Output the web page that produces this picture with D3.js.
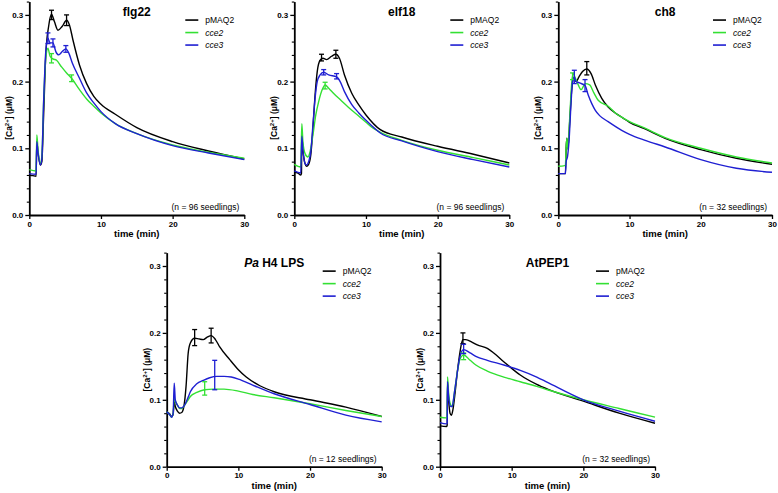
<!DOCTYPE html>
<html><head><meta charset="utf-8">
<script src="https://cdn.jsdelivr.net/npm/d3@7"></script>
<style>
body{margin:0;background:#fff}
svg{display:block}
text{font-family:"Liberation Sans",Arial,Helvetica,sans-serif}
</style>
</head><body>
<svg id="c" width="778" height="493"></svg>
<script>
// ---------- DATA ----------
const titles = ["flg22", "elf18", "ch8", "Pa H4 LPS", "AtPEP1"];
const nSeedlings = [96, 96, 32, 12, 32];
const seriesNames = ["pMAQ2", "cce2", "cce3"];
const xTicks = [0, 10, 20, 30];
const yTicks = [0, 0.1, 0.2, 0.3];

// [time (min), [Ca2+] (uM)]
const flg22_pMAQ2 = [[0,0.060],[0.5,0.059],[0.95,0.058],[1.05,0.11],[1.2,0.095],[1.55,0.075],[1.75,0.08],[2.0,0.15],[2.3,0.24],[2.7,0.283],[3.1,0.301],[3.5,0.29],[4.0,0.277],[4.6,0.283],[5.2,0.292],[5.6,0.285],[6.1,0.262],[7,0.225],[8,0.197],[9,0.178],[10,0.166],[12,0.151],[15,0.131],[20,0.11],[25,0.096],[30,0.084]];
const flg22_cce2 = [[0,0.068],[0.95,0.066],[1.05,0.12],[1.2,0.1],[1.55,0.078],[1.75,0.088],[2.0,0.17],[2.3,0.235],[2.6,0.25],[2.9,0.238],[3.3,0.234],[3.8,0.232],[4.5,0.222],[5.2,0.213],[5.9,0.205],[7,0.188],[8,0.174],[9,0.163],[10,0.153],[12,0.137],[15,0.122],[20,0.105],[25,0.094],[30,0.085]];
const flg22_cce3 = [[0,0.062],[0.95,0.061],[1.05,0.11],[1.2,0.095],[1.55,0.075],[1.75,0.085],[2.0,0.17],[2.3,0.245],[2.6,0.265],[2.9,0.258],[3.3,0.258],[3.7,0.245],[4.1,0.24],[4.6,0.245],[5.1,0.249],[5.5,0.243],[6,0.228],[7,0.205],[8,0.183],[9,0.168],[10,0.155],[12,0.137],[15,0.122],[20,0.104],[25,0.093],[30,0.083]];
const flg22_err_pMAQ2 = [[3.1,0.300,0.007],[5.2,0.292,0.008]];
const flg22_err_cce2 = [[3.1,0.235,0.007],[5.9,0.205,0.005]];
const flg22_err_cce3 = [[2.6,0.265,0.008],[3.3,0.258,0.006],[5.1,0.249,0.005]];

const elf18_pMAQ2 = [[0,0.064],[0.5,0.063],[0.9,0.06],[1.0,0.062],[1.05,0.12],[1.2,0.098],[1.5,0.077],[1.7,0.073],[2.0,0.076],[2.3,0.09],[2.6,0.13],[2.9,0.18],[3.2,0.215],[3.6,0.232],[4.0,0.235],[4.5,0.233],[5.2,0.238],[5.8,0.241],[6.3,0.235],[7,0.21],[8,0.183],[9,0.165],[10,0.15],[12,0.128],[15,0.117],[20,0.103],[25,0.091],[30,0.078]];
const elf18_cce2 = [[0,0.076],[0.9,0.072],[1.05,0.137],[1.2,0.11],[1.5,0.092],[1.9,0.087],[2.2,0.095],[2.6,0.12],[3.0,0.15],[3.4,0.17],[3.9,0.188],[4.3,0.195],[4.8,0.19],[5.5,0.182],[6.5,0.172],[7.5,0.162],[8.7,0.151],[10,0.139],[11,0.13],[12,0.124],[15,0.112],[20,0.097],[25,0.086],[30,0.075]];
const elf18_cce3 = [[0,0.066],[0.9,0.063],[1.05,0.118],[1.2,0.097],[1.5,0.077],[1.7,0.075],[2.0,0.08],[2.3,0.095],[2.6,0.135],[2.9,0.175],[3.2,0.2],[3.6,0.21],[4.1,0.214],[4.8,0.21],[5.9,0.207],[6.4,0.2],[7,0.185],[8,0.166],[9,0.153],[10,0.142],[12,0.123],[15,0.111],[20,0.095],[25,0.083],[30,0.072]];
const elf18_err_pMAQ2 = [[3.8,0.236,0.005],[5.8,0.241,0.006]];
const elf18_err_cce2 = [[4.3,0.194,0.005]];
const elf18_err_cce3 = [[4.1,0.214,0.004],[5.9,0.208,0.004]];

const ch8_pMAQ2 = [[0,0.062],[0.9,0.062],[1.0,0.062],[1.1,0.1],[1.2,0.115],[1.35,0.1],[1.6,0.14],[1.9,0.19],[2.2,0.205],[2.5,0.2],[2.9,0.207],[3.4,0.215],[4.0,0.219],[4.6,0.212],[5.2,0.195],[6.1,0.175],[7,0.162],[8,0.153],[9,0.146],[10,0.139],[12,0.13],[15,0.115],[20,0.098],[25,0.085],[30,0.076]];
const ch8_cce2 = [[0,0.073],[0.9,0.074],[1.0,0.075],[1.1,0.1],[1.2,0.115],[1.35,0.098],[1.6,0.145],[1.9,0.2],[2.1,0.212],[2.4,0.205],[2.8,0.195],[3.2,0.188],[3.8,0.197],[4.4,0.195],[5,0.183],[5.6,0.172],[7,0.163],[8,0.153],[9,0.146],[10,0.14],[12,0.131],[15,0.116],[20,0.1],[25,0.087],[30,0.078]];
const ch8_cce3 = [[0,0.062],[0.9,0.062],[1.0,0.062],[1.1,0.08],[1.3,0.088],[1.5,0.11],[1.8,0.17],[2.0,0.2],[2.25,0.207],[2.5,0.2],[3.0,0.198],[3.75,0.194],[4.2,0.18],[4.7,0.167],[5.2,0.157],[5.8,0.149],[7,0.14],[8.9,0.127],[10,0.121],[12.2,0.112],[15,0.102],[20,0.083],[25,0.07],[30,0.064]];
const ch8_err_pMAQ2 = [[4.0,0.22,0.01]];
const ch8_err_cce2 = [[2.0,0.208,0.005]];
const ch8_err_cce3 = [[2.25,0.207,0.01],[3.75,0.194,0.009]];

const lps_pMAQ2 = [[0,0.082],[0.4,0.079],[0.7,0.075],[0.9,0.078],[1.05,0.097],[1.2,0.09],[1.5,0.083],[1.8,0.08],[2.1,0.081],[2.4,0.09],[2.7,0.12],[3.0,0.17],[3.3,0.185],[3.9,0.192],[4.5,0.191],[5.1,0.19],[5.7,0.194],[6.2,0.196],[6.8,0.19],[7.4,0.179],[8.8,0.16],[10,0.145],[11.1,0.134],[13,0.121],[15,0.112],[20,0.1],[25,0.089],[30,0.075]];
const lps_cce2 = [[0,0.082],[0.4,0.078],[0.7,0.074],[0.9,0.08],[1.05,0.102],[1.2,0.098],[1.5,0.092],[1.8,0.087],[2.1,0.087],[2.5,0.092],[3.0,0.1],[3.3,0.105],[4.2,0.111],[5.3,0.115],[6.5,0.116],[8,0.116],[10,0.113],[12,0.108],[15,0.103],[20,0.094],[25,0.084],[30,0.075]];
const lps_cce3 = [[0,0.082],[0.4,0.078],[0.7,0.074],[0.9,0.08],[1.05,0.125],[1.2,0.1],[1.5,0.092],[1.8,0.088],[2.1,0.088],[2.5,0.092],[3.0,0.104],[3.3,0.112],[4.2,0.124],[5.1,0.129],[6,0.133],[7,0.135],[8,0.135],[9,0.134],[10,0.131],[12,0.122],[15,0.109],[20,0.093],[25,0.077],[30,0.067]];
const lps_err_pMAQ2 = [[3.9,0.193,0.012],[6.2,0.196,0.011]];
const lps_err_cce2 = [[5.3,0.117,0.01]];
const lps_err_cce3 = [[6.7,0.137,0.022]];

const pep1_pMAQ2 = [[0,0.061],[0.9,0.06],[1.0,0.062],[1.05,0.125],[1.2,0.1],[1.4,0.08],[1.6,0.077],[1.8,0.085],[2.1,0.11],[2.4,0.14],[2.7,0.165],[3.0,0.184],[3.2,0.19],[3.6,0.19],[4.5,0.186],[5.2,0.182],[6.6,0.177],[7.5,0.17],[8.9,0.157],[10,0.147],[11.2,0.137],[13.5,0.123],[15,0.116],[20,0.098],[25,0.08],[30,0.065]];
const pep1_cce2 = [[0,0.074],[0.9,0.073],[1.0,0.074],[1.05,0.134],[1.2,0.11],[1.5,0.092],[1.7,0.09],[2.0,0.11],[2.4,0.14],[2.7,0.158],[3.0,0.165],[3.3,0.167],[4.2,0.159],[5,0.152],[6.6,0.143],[8.9,0.134],[11.2,0.127],[13.5,0.12],[15,0.115],[20,0.1],[25,0.087],[30,0.074]];
const pep1_cce3 = [[0,0.066],[0.9,0.064],[1.0,0.065],[1.05,0.127],[1.2,0.105],[1.5,0.09],[1.7,0.09],[2.0,0.11],[2.4,0.14],[2.7,0.16],[3.0,0.172],[3.3,0.175],[4.2,0.17],[5,0.165],[6.6,0.159],[8.9,0.152],[11.2,0.144],[13.5,0.134],[15,0.126],[20,0.1],[25,0.083],[30,0.068]];
const pep1_err_pMAQ2 = [[3.2,0.192,0.008]];
const pep1_err_cce2 = [[3.3,0.165,0.005]];
const pep1_err_cce3 = [[3.3,0.176,0.007]];

// ---------- LAYOUT / STYLE ----------
const colors = ["#000000", "#33e033", "#1f1fd2"];
const layout = [
  {left: 29.3,  right: 244.3, y0: 215,   ppu: 667},
  {left: 294.3, right: 509.3, y0: 215,   ppu: 667},
  {left: 558.3, right: 772,   y0: 215,   ppu: 667},
  {left: 166.7, right: 381.7, y0: 466.7, ppu: 669},
  {left: 440,   right: 655,   y0: 466.7, ppu: 669}
];
const panelSeries = [
  [flg22_pMAQ2, flg22_cce2, flg22_cce3],
  [elf18_pMAQ2, elf18_cce2, elf18_cce3],
  [ch8_pMAQ2, ch8_cce2, ch8_cce3],
  [lps_pMAQ2, lps_cce2, lps_cce3],
  [pep1_pMAQ2, pep1_cce2, pep1_cce3]
];
const panelErr = [
  [flg22_err_pMAQ2, flg22_err_cce2, flg22_err_cce3],
  [elf18_err_pMAQ2, elf18_err_cce2, elf18_err_cce3],
  [ch8_err_pMAQ2, ch8_err_cce2, ch8_err_cce3],
  [lps_err_pMAQ2, lps_err_cce2, lps_err_cce3],
  [pep1_err_pMAQ2, pep1_err_cce2, pep1_err_cce3]
];

const svg = d3.select("#c");
svg.append("rect").attr("width", 778).attr("height", 493).attr("fill", "#fff");

titles.forEach((title, i) => {
  const L = layout[i];
  const x = d3.scaleLinear().domain([0, 30]).range([L.left, L.right]);
  const y = d3.scaleLinear().domain([0, 0.32]).range([L.y0, L.y0 - 0.32 * L.ppu]);
  const top = y(0.32);
  const g = svg.append("g");

  // minor y ticks
  const minor = d3.range(0, 0.321, 0.02).filter(v => Math.abs(v * 10 - Math.round(v * 10)) > 1e-6);
  g.append("g").attr("transform", `translate(${L.left},0)`)
    .call(d3.axisLeft(y).tickValues(minor).tickSize(2.5).tickSizeOuter(0).tickFormat(""))
    .call(a => a.select(".domain").remove())
    .call(a => a.selectAll("line").attr("stroke-width", 1.1));

  // major y axis
  g.append("g").attr("transform", `translate(${L.left},0)`)
    .call(d3.axisLeft(y).tickValues(yTicks).tickSize(4).tickSizeOuter(0).tickPadding(2).tickFormat(d3.format(".1f")))
    .call(a => a.select(".domain").attr("stroke-width", 1.8))
    .call(a => a.selectAll("line").attr("stroke-width", 1.3))
    .call(a => a.selectAll("text").attr("font-size", 8).attr("font-weight", "bold").attr("fill", "#000")
      .attr("font-family", '"Liberation Sans",Arial,sans-serif'));

  // x axis
  g.append("g").attr("transform", `translate(0,${L.y0})`)
    .call(d3.axisBottom(x).tickValues(xTicks).tickSize(4).tickSizeOuter(0).tickPadding(2))
    .call(a => a.select(".domain").attr("stroke-width", 1.8))
    .call(a => a.selectAll("line").attr("stroke-width", 1.3))
    .call(a => a.selectAll("text").attr("font-size", 8).attr("font-weight", "bold").attr("fill", "#000")
      .attr("font-family", '"Liberation Sans",Arial,sans-serif'));

  // x label
  g.append("text").attr("x", (L.left + L.right) / 2).attr("y", L.y0 + 22)
    .attr("text-anchor", "middle").attr("font-size", 9.5).attr("font-weight", "bold").text("time (min)");

  // y label
  const yl = g.append("text")
    .attr("transform", `translate(${L.left - 17},${L.y0 - 97}) rotate(-90)`)
    .attr("text-anchor", "middle").attr("font-size", 8.5).attr("font-weight", "bold");
  yl.append("tspan").text("[Ca");
  yl.append("tspan").attr("font-size", 6).attr("dy", -3).text("2+");
  yl.append("tspan").attr("dy", 3).text("] (μM)");

  // title
  const t = g.append("text").attr("x", (L.left + L.right) / 2).attr("y", top + 14)
    .attr("text-anchor", "middle").attr("font-size", 12).attr("font-weight", "bold");
  if (title.startsWith("Pa ")) {
    t.append("tspan").attr("font-style", "italic").text("Pa");
    t.append("tspan").text(title.slice(2));
  } else {
    t.text(title);
  }

  // lines
  const line = d3.line().x(d => x(d[0])).y(d => y(d[1])).curve(d3.curveMonotoneX);
  panelSeries[i].forEach((s, k) => {
    g.append("path").datum(s).attr("d", line).attr("fill", "none")
      .attr("stroke", colors[k]).attr("stroke-width", 1.4).attr("stroke-linejoin", "round");
  });

  // error bars
  panelErr[i].forEach((errs, k) => {
    errs.forEach(e => {
      const cx = x(e[0]), y1 = y(e[1] + e[2]), y2 = y(e[1] - e[2]);
      g.append("line").attr("x1", cx).attr("x2", cx).attr("y1", y1).attr("y2", y2)
        .attr("stroke", colors[k]).attr("stroke-width", 1.3);
      [y1, y2].forEach(yy => g.append("line").attr("x1", cx - 2.5).attr("x2", cx + 2.5)
        .attr("y1", yy).attr("y2", yy).attr("stroke", colors[k]).attr("stroke-width", 1.3));
    });
  });

  // legend
  seriesNames.forEach((nm, k) => {
    const ly = top + 18.5 + k * 12.5;
    g.append("line").attr("x1", L.right - 59).attr("x2", L.right - 46).attr("y1", ly).attr("y2", ly)
      .attr("stroke", colors[k]).attr("stroke-width", 1.6);
    g.append("text").attr("x", L.right - 39).attr("y", ly + 3).attr("font-size", 8.5)
      .attr("font-style", k === 0 ? "normal" : "italic").text(nm);
  });

  // n label
  g.append("text").attr("x", L.right - 5).attr("y", L.y0 - 5).attr("text-anchor", "end")
    .attr("font-size", 8.5).text(`(n = ${nSeedlings[i]} seedlings)`);
});
</script>
</body></html>
